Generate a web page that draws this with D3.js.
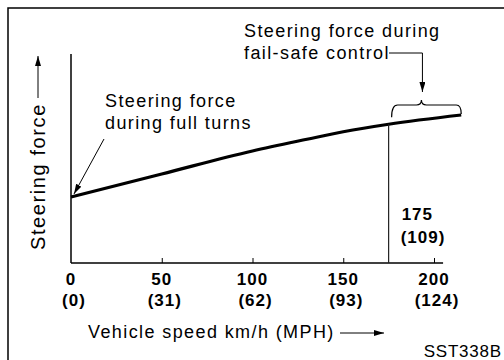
<!DOCTYPE html>
<html>
<head>
<meta charset="utf-8">
<script src="https://cdn.jsdelivr.net/npm/d3@7"></script>
<style>
  html, body { margin: 0; padding: 0; background: #fff; }
  svg { display: block; }
  text { font-family: "Liberation Sans", Arial, Helvetica, sans-serif; fill: #000; }
  .note { font-size: 18px; letter-spacing: 1.4px; }
  .tick-label { font-size: 17px; font-weight: bold; letter-spacing: 1px; }
</style>
</head>
<body>
<svg id="chart" width="504" height="360"></svg>
<script>
// Vehicle speed (km/h) and relative steering force along the curve
const speedKmh = [0, 50, 100, 130, 150, 175, 215];
const steeringForce = [31.6, 42.6, 53.6, 59.2, 62.8, 66.4, 70.8];

// Axis ticks: km/h with MPH equivalents
const tickKmh = [0, 50, 100, 150, 200];
const tickMph = ["(0)", "(31)", "(62)", "(93)", "(124)"];

// Fail-safe threshold
const failSafeKmh = 175;
const failSafeMph = "(109)";
const curveEndKmh = 215;
const axisEndKmh = 205;

const svg = d3.select("#chart");

const x = d3.scaleLinear().domain([0, 200]).range([71, 434]);
const y = d3.scaleLinear().domain([0, 100]).range([263, 54]);

// Arrowhead marker
const defs = svg.append("defs");
defs.append("marker")
  .attr("id", "head")
  .attr("viewBox", "0 0 10 6")
  .attr("refX", 10).attr("refY", 3)
  .attr("markerWidth", 10).attr("markerHeight", 6)
  .attr("markerUnits", "userSpaceOnUse")
  .attr("orient", "auto")
  .append("path").attr("d", "M0,0 L10,3 L0,6 Z").attr("fill", "#000");

// Outer frame (left and top edges)
svg.append("path")
  .attr("d", "M8,360 L8,8 L504,8")
  .attr("fill", "none").attr("stroke", "#000").attr("stroke-width", 1.5);

// Axes
svg.append("line")
  .attr("x1", x(0)).attr("x2", x(0))
  .attr("y1", y(0)).attr("y2", y(100))
  .attr("stroke", "#000").attr("stroke-width", 1.5);
svg.append("line")
  .attr("x1", x(0)).attr("x2", x(axisEndKmh))
  .attr("y1", y(0)).attr("y2", y(0))
  .attr("stroke", "#000").attr("stroke-width", 1.5);

const xAxis = d3.axisBottom(x)
  .tickValues(tickKmh.slice(1))
  .tickSizeInner(-5).tickSizeOuter(0)
  .tickFormat("");
const gx = svg.append("g").attr("transform", `translate(0,${y(0)})`).call(xAxis);
gx.select(".domain").remove();
gx.selectAll(".tick line").attr("stroke", "#000").attr("stroke-width", 1);

// Two-line tick labels
const labels = svg.append("g");
tickKmh.forEach((v, i) => {
  labels.append("text").attr("class", "tick-label")
    .attr("x", x(v)).attr("y", 285).attr("text-anchor", "middle").text(v);
  labels.append("text").attr("class", "tick-label")
    .attr("x", x(v) + 3).attr("y", 306).attr("text-anchor", "middle").text(tickMph[i]);
});

// Steering force curve
const line = d3.line()
  .x((d, i) => x(speedKmh[i]))
  .y(d => y(d))
  .curve(d3.curveMonotoneX);
svg.append("path")
  .datum(steeringForce)
  .attr("d", line)
  .attr("fill", "none").attr("stroke", "#000").attr("stroke-width", 3.2)
  .attr("stroke-linecap", "butt");

// Fail-safe threshold marker
const fsIdx = speedKmh.indexOf(failSafeKmh);
svg.append("line")
  .attr("x1", x(failSafeKmh)).attr("x2", x(failSafeKmh))
  .attr("y1", y(0)).attr("y2", y(steeringForce[fsIdx]))
  .attr("stroke", "#222").attr("stroke-width", 1.2);
svg.append("text").attr("class", "tick-label")
  .attr("x", x(failSafeKmh) + 13).attr("y", 220).text(failSafeKmh);
svg.append("text").attr("class", "tick-label")
  .attr("x", x(failSafeKmh) + 12).attr("y", 243).text(failSafeMph);

// Brace over the fail-safe range
const bx1 = x(failSafeKmh) + 3, bx2 = x(curveEndKmh);
const by1 = y(steeringForce[fsIdx]) - 7;
const by2 = y(steeringForce[steeringForce.length - 1]) - 1;
const bTop = 105, bMid = (bx1 + bx2) / 2 - 5;
svg.append("path")
  .attr("d", `M${bx1},${by1} Q${bx1},${bTop} ${bx1 + 6},${bTop}
              L${bMid - 5},${bTop} Q${bMid},${bTop} ${bMid},${bTop - 5}
              Q${bMid},${bTop} ${bMid + 5},${bTop}
              L${bx2 - 5},${bTop} Q${bx2},${bTop} ${bx2},${by2}`)
  .attr("fill", "none").attr("stroke", "#000").attr("stroke-width", 1.2);

// Annotation: fail-safe control
svg.append("text").attr("class", "note").attr("x", 244).attr("y", 37).text("Steering force during");
svg.append("text").attr("class", "note").attr("x", 244).attr("y", 59).text("fail-safe control");
svg.append("path")
  .attr("d", `M389,53 L${bMid + 1},53 L${bMid + 1},92`)
  .attr("fill", "none").attr("stroke", "#000").attr("stroke-width", 1)
  .attr("marker-end", "url(#head)");

// Annotation: full turns
svg.append("text").attr("class", "note").attr("x", 105).attr("y", 107).text("Steering force");
svg.append("text").attr("class", "note").attr("x", 105).attr("y", 129).text("during full turns");
svg.append("line")
  .attr("x1", 104).attr("y1", 139)
  .attr("x2", x(0) + 3).attr("y2", y(steeringForce[0]) - 3)
  .attr("stroke", "#000").attr("stroke-width", 1)
  .attr("marker-end", "url(#head)");

// Y axis title with arrow
svg.append("text")
  .attr("transform", "translate(45,250) rotate(-90)")
  .style("font-size", "20px").style("letter-spacing", "1.6px")
  .text("Steering force");
svg.append("line")
  .attr("x1", 38).attr("x2", 38).attr("y1", 98).attr("y2", 56)
  .attr("stroke", "#000").attr("stroke-width", 1)
  .attr("marker-end", "url(#head)");

// X axis title with arrow
svg.append("text").attr("class", "note").attr("x", 88).attr("y", 338).text("Vehicle speed km/h (MPH)");
svg.append("line")
  .attr("x1", 340).attr("x2", 384).attr("y1", 333).attr("y2", 333)
  .attr("stroke", "#000").attr("stroke-width", 1)
  .attr("marker-end", "url(#head)");

// Figure code
svg.append("text")
  .attr("x", 502).attr("y", 357).attr("text-anchor", "end")
  .style("font-size", "17px").style("letter-spacing", "0.8px")
  .text("SST338B");
</script>
</body>
</html>
